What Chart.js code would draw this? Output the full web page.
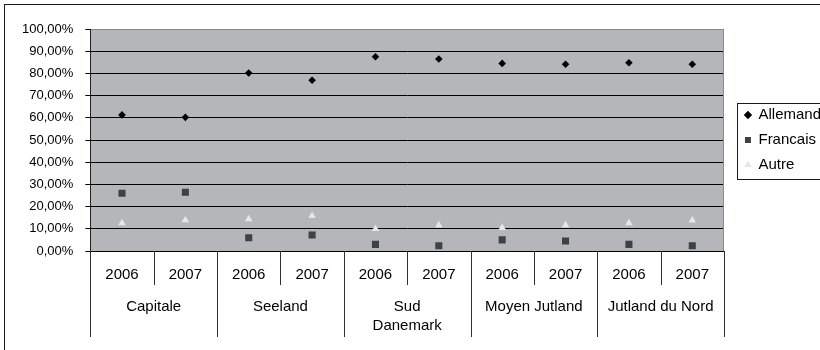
<!DOCTYPE html>
<html>
<head>
<meta charset="utf-8">
<script src="https://cdn.jsdelivr.net/npm/chart.js@4/dist/chart.umd.min.js"></script>
<style>
  html, body { margin: 0; padding: 0; background: #fff; }
  #wrap { width: 820px; height: 350px; }
</style>
</head>
<body>
<div id="wrap"><canvas id="c" width="820" height="350"></canvas></div>
<script>
// Categories: two years per region
const years = ['2006', '2007', '2006', '2007', '2006', '2007', '2006', '2007', '2006', '2007'];
const regions = ['Capitale', 'Seeland', ['Sud', 'Danemark'], 'Moyen Jutland', 'Jutland du Nord'];

// Share per language (%)
const allemand = [61.3, 60.2, 80.2, 76.9, 87.5, 86.5, 84.5, 84.1, 84.8, 84.1];
const francais = [26.0, 26.5, 6.0, 7.2, 3.0, 2.4, 5.0, 4.5, 3.0, 2.4];
const autre    = [12.6, 13.9, 14.4, 15.9, 10.0, 11.6, 10.5, 11.6, 12.6, 13.8];

// Value axis
const yMin = 0;
const yMax = 100;
const yStep = 10;

const FONT = "'Liberation Sans', Arial, sans-serif";
const fmtPct = v => v.toFixed(2).replace('.', ',') + '%';

const framePlugin = {
  id: 'frame',
  beforeDraw(chart) {
    const { ctx, chartArea: a } = chart;
    ctx.save();
    ctx.fillStyle = '#ffffff';
    ctx.fillRect(0, 0, chart.width, chart.height);
    // outer chart border
    ctx.strokeStyle = '#1a1a1a';
    ctx.lineWidth = 1;
    ctx.strokeRect(4.5, 4.5, chart.width + 20, chart.height + 20);
    // plot area fill
    ctx.fillStyle = '#b5b6ba';
    ctx.fillRect(a.left, a.top, a.right - a.left, a.bottom - a.top);
    ctx.restore();
  },
  beforeDatasetsDraw(chart) {
    const { ctx, chartArea: a } = chart;
    ctx.save();
    ctx.strokeStyle = '#8a8a8a';
    ctx.lineWidth = 1;
    ctx.beginPath();
    ctx.moveTo(Math.round(a.right) - 0.5, a.top);
    ctx.lineTo(Math.round(a.right) - 0.5, a.bottom);
    ctx.stroke();
    ctx.restore();
  },
  afterLayout(chart) {
    // leave a gap between plot area and legend
    const lg = chart.legend;
    if (lg) { lg.left += 11; lg.right += 11; }
  },
  afterDraw(chart) {
    const { ctx, chartArea: a } = chart;
    const xs = chart.scales.x;
    const x2 = chart.scales.x2;
    ctx.save();
    ctx.strokeStyle = '#303030';
    ctx.lineWidth = 1;
    // category separators: short between years, long between regions
    for (let i = 0; i <= years.length; i++) {
      const px = Math.round(xs.getPixelForValue(i - 0.5)) + 0.5;
      const bottom = (i % 2 === 0) ? x2.bottom : xs.bottom;
      ctx.beginPath();
      ctx.moveTo(px, a.bottom);
      ctx.lineTo(px, bottom);
      ctx.stroke();
    }
    // legend frame
    const lg = chart.legend;
    if (lg && lg.legendHitBoxes && lg.legendHitBoxes.length) {
      const hb = lg.legendHitBoxes;
      const left = Math.round(lg.left + lg.options.labels.padding - 8) + 0.5;
      const top = Math.round(hb[0].top - 5) + 0.5;
      const bottom = Math.round(hb[hb.length - 1].top + hb[hb.length - 1].height + 6) + 0.5;
      ctx.strokeStyle = '#1a1a1a';
      ctx.strokeRect(left, top, chart.width + 20, bottom - top);
    }
    ctx.restore();
  }
};

new Chart(document.getElementById('c'), {
  type: 'line',
  data: {
    labels: years,
    datasets: [
      { label: 'Allemand', data: allemand, showLine: false, pointStyle: 'rectRot',
        pointRadius: 3.8, pointHoverRadius: 3.8, backgroundColor: '#000000', borderColor: '#000000', pointBorderWidth: 0 },
      { label: 'Francais', data: francais, showLine: false, pointStyle: 'rect',
        pointRadius: 5, pointHoverRadius: 5, backgroundColor: '#414141', borderColor: '#414141', pointBorderWidth: 0 },
      { label: 'Autre', data: autre, showLine: false, pointStyle: 'triangle',
        pointRadius: 4.4, pointHoverRadius: 4.4, backgroundColor: '#e6e6e6', borderColor: '#e6e6e6', pointBorderWidth: 0 }
    ]
  },
  options: {
    responsive: false,
    animation: false,
    devicePixelRatio: 1,
    layout: { padding: { left: 10, top: 29, right: 0, bottom: 13 } },
    plugins: {
      legend: {
        position: 'right',
        fullSize: false,
        align: 'center',
        labels: {
          usePointStyle: true,
          boxWidth: 6,
          boxHeight: 6,
          padding: 10,
          color: '#000',
          font: { family: FONT, size: 15 }
        }
      },
      tooltip: { enabled: false }
    },
    scales: {
      y: {
        min: yMin,
        max: yMax,
        ticks: {
          stepSize: yStep,
          padding: 12,
          color: '#000',
          font: { family: FONT, size: 13 },
          callback: v => fmtPct(v)
        },
        grid: {
          color: c => (c.tick && c.tick.value === yMax) ? '#8a8a8a' : '#000000',
          tickColor: '#000000',
          tickLength: 5,
          lineWidth: 1
        },
        border: { display: true, color: '#202020' }
      },
      x: {
        type: 'category',
        position: 'bottom',
        weight: 0,
        offset: true,
        grid: { display: false, drawTicks: false },
        border: { display: true, color: '#000' },
        ticks: {
          padding: 15,
          autoSkip: false,
          maxRotation: 0,
          color: '#000',
          font: { family: FONT, size: 15 }
        },
        afterFit: s => { s.height = 34; }
      },
      x2: {
        type: 'category',
        position: 'bottom',
        weight: 1,
        offset: true,
        labels: regions,
        grid: { display: false, drawTicks: false },
        border: { display: false },
        ticks: {
          padding: 12,
          autoSkip: false,
          maxRotation: 0,
          color: '#000',
          font: { family: FONT, size: 15, lineHeight: 1.3 }
        },
        afterFit: s => { s.height = 52; }
      }
    }
  },
  plugins: [framePlugin]
});
</script>
</body>
</html>
